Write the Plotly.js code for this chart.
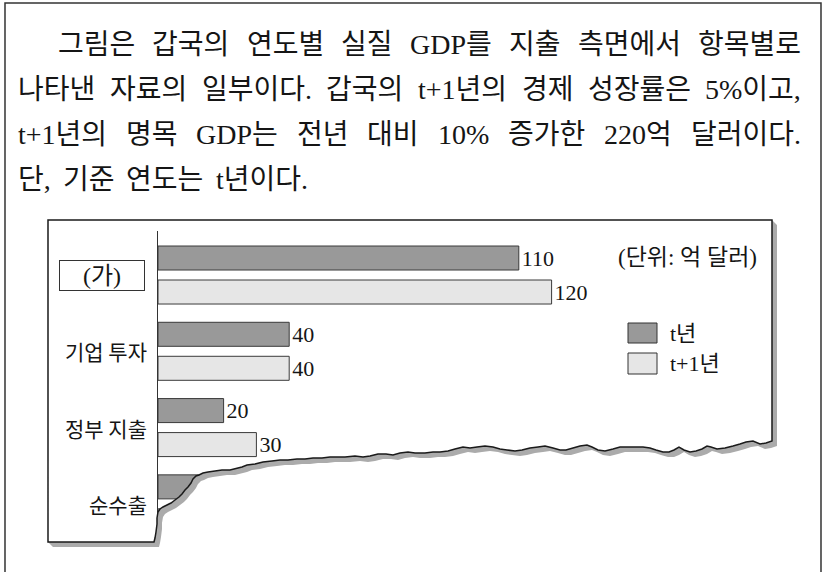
<!DOCTYPE html>
<html><head><meta charset="utf-8">
<script src="https://cdn.plot.ly/plotly-3.0.1.min.js"></script>
<style>html,body{margin:0;padding:0;background:#fff;overflow:hidden}</style>
</head><body><div id="chart" style="width:822px;height:572px"></div>
<script>
// ---------- data ----------
const categories = ['(가)', '기업 투자', '정부 지출', '순수출'];
const seriesNames = ['t년', 't+1년'];
const valuesT  = [110, 40, 20, 30];
const valuesT1 = [120, 40, 30, 20];
const unitLabel = '(단위: 억 달러)';
const paragraphLines = [
  '그림은 갑국의 연도별 실질 GDP를 지출 측면에서 항목별로',
  '나타낸 자료의 일부이다. 갑국의 t+1년의 경제 성장률은 5%이고,',
  't+1년의 명목 GDP는 전년 대비 10% 증가한 220억 달러이다.',
  '단, 기준 연도는 t년이다.'
];

// ---------- helpers ----------
const W = 822, H = 572;
const px = x => x / W;
const py = y => 1 - y / H;
const toPath = (pts, close) => pts.map((p, i) => (i ? 'L' : 'M') + px(p[0]).toFixed(5) + ',' + py(p[1]).toFixed(5)).join(' ') + (close ? ' Z' : '');

const SERIF = '"Liberation Serif", "Noto Sans CJK KR", serif';
const SANS = '"Noto Sans CJK KR", sans-serif';
const TXT = '#151515';

// ---------- paragraph (justified words) ----------
const PSIZE = 28;
const lineY = [45, 90, 134, 179];
const lineStart = [57, 17, 17, 17];
const lineEnd = 800;
const ctx = document.createElement('canvas').getContext('2d');
ctx.font = PSIZE + 'px "Liberation Serif", "Noto Sans CJK KR"';
const annotations = [];
paragraphLines.forEach((line, li) => {
  const words = line.split(' ');
  const widths = words.map(w => ctx.measureText(w).width);
  const total = widths.reduce((a, b) => a + b, 0);
  const last = li === paragraphLines.length - 1;
  const gap = last ? 12 : (lineEnd - lineStart[li] - total) / (words.length - 1);
  let x = lineStart[li];
  words.forEach((w, wi) => {
    annotations.push({xref: 'paper', yref: 'paper', x: px(x), y: py(lineY[li]),
      xanchor: 'left', yanchor: 'middle', text: w, showarrow: false, borderpad: 0,
      font: {family: SERIF, size: PSIZE, color: TXT}});
    x += widths[wi] + gap;
  });
});

// ---------- category labels ----------
categories.forEach((c, i) => {
  if (i === 0) {
    annotations.push({xref: 'paper', yref: 'y', x: px(102), y: c, xanchor: 'center', yanchor: 'middle',
      text: c, showarrow: false, width: 84, height: 29, borderpad: 0, bordercolor: '#333', borderwidth: 1,
      bgcolor: '#fff', font: {family: SERIF, size: 24, color: TXT}});
  } else {
    annotations.push({xref: 'paper', yref: 'y', x: px(148), y: c, xanchor: 'right', yanchor: 'middle',
      text: c, showarrow: false, borderpad: 0, font: {family: SANS, size: 21, color: TXT}});
  }
});

// ---------- unit & legend ----------
annotations.push({xref: 'paper', yref: 'paper', x: px(617), y: py(257), xanchor: 'left', yanchor: 'middle',
  text: unitLabel, showarrow: false, borderpad: 0, font: {family: SERIF, size: 23, color: TXT}});
const legendBoxes = [[628, 323, 657, 343], [628, 353, 657, 374]];
const seriesColors = ['#999999', '#e6e6e6'];
const shapes = [];
seriesNames.forEach((n, i) => {
  const b = legendBoxes[i];
  shapes.push({type: 'rect', xref: 'paper', yref: 'paper', x0: px(b[0]), x1: px(b[2]), y0: py(b[1]), y1: py(b[3]),
    fillcolor: seriesColors[i], line: {color: '#333', width: 1}, layer: 'above'});
  annotations.push({xref: 'paper', yref: 'paper', x: px(669), y: py((b[1] + b[3]) / 2), xanchor: 'left', yanchor: 'middle',
    text: n, showarrow: false, borderpad: 0, font: {family: SERIF, size: 22, color: TXT}});
});

// ---------- torn paper frame ----------
const tear = [[772,441],[766,443],[760,444],[753,441],[746,442],[740,444],[733,446],[725,448],[717,449],[711,447],[707,446],[702,449],[696,451],[690,452],[684,450],[679,447],[674,450],[669,452],[663,452],[656,450],[650,448],[643,447],[637,447],[628,447],[620,447],[613,449],[605,451],[598,450],[592,447],[587,445],[580,446],[573,448],[566,450],[560,450],[553,448],[545,446],[538,447],[530,448],[522,450],[515,451],[507,450],[500,449],[493,447],[485,446],[477,447],[470,448],[463,447],[455,449],[448,451],[440,452],[433,452],[425,453],[415,453],[408,452],[400,453],[393,455],[386,454],[378,454],[370,456],[363,457],[355,456],[345,457],[338,457],[330,457],[322,458],[313,458],[305,459],[297,459],[288,460],[280,460],[272,461],[263,462],[255,464],[247,465],[242,467],[238,468],[230,470],[222,470],[215,471],[208,472],[203,473],[199,475],[196,476],[193,479],[191,483],[188,487],[185,490],[182,494],[179,497],[175,500],[171,503],[167,505],[163,507],[160,509],[158,512],[157,518],[157,524],[156,532],[155,538],[154,542]];
const edgeA = [[772,220]].concat(tear).concat([[48,542]]);
const edgeShift = edgeA.map(p => [p[0] + 5, p[1] + 5]);
const cover = tear.concat([[154,548],[780,548],[780,441]]);
const outline = [[48,542],[48,220],[772,220]].concat(tear);

shapes.push({type: 'path', xref: 'paper', yref: 'paper', path: toPath(cover, true), fillcolor: '#ffffff', line: {width: 0}, layer: 'above'});
shapes.push({type: 'path', xref: 'paper', yref: 'paper', path: toPath(edgeShift.concat(edgeA.slice().reverse()), true), fillcolor: '#ababab', line: {width: 0}, layer: 'above'});
shapes.push({type: 'path', xref: 'paper', yref: 'paper', path: toPath(outline, true), fillcolor: 'rgba(0,0,0,0)', line: {color: '#1a1a1a', width: 1.5}, layer: 'above'});
// outer frame (open at bottom)
shapes.push({type: 'path', xref: 'paper', yref: 'paper', path: toPath([[5,572],[5,3],[821,3],[821,572]], false), line: {color: '#333', width: 1.5}, layer: 'above'});

// ---------- traces ----------
const mk = (vals, name, color) => ({
  type: 'bar', orientation: 'h', y: categories, x: vals, name: name,
  marker: {color: color, line: {color: '#3a3a3a', width: 1}},
  text: vals.map(String), textposition: 'outside', constraintext: 'none', cliponaxis: false,
  textfont: {family: SERIF, size: 22, color: TXT}, hoverinfo: 'none'
});
const data = [mk(valuesT, seriesNames[0], seriesColors[0]), mk(valuesT1, seriesNames[1], seriesColors[1])];

const layout = {
  width: W, height: H, margin: {l: 0, r: 0, t: 0, b: 0},
  paper_bgcolor: '#ffffff', plot_bgcolor: 'rgba(0,0,0,0)', showlegend: false,
  barmode: 'group', bargap: 0.1085, bargroupgap: 0.294,
  xaxis: {domain: [px(158), px(772)], range: [0, (772 - 158) / 3.28], showgrid: false, zeroline: false,
          showticklabels: false, showline: false, ticks: '', fixedrange: true},
  yaxis: {domain: [py(542), py(231)], type: 'category', range: [3.5, -0.577], showgrid: false, zeroline: false,
          showticklabels: false, showline: true, linecolor: '#333', linewidth: 1.5, ticks: '', fixedrange: true},
  annotations: annotations, shapes: shapes
};
Plotly.newPlot('chart', data, layout, {displayModeBar: false, staticPlot: true});
</script>
</body></html>
